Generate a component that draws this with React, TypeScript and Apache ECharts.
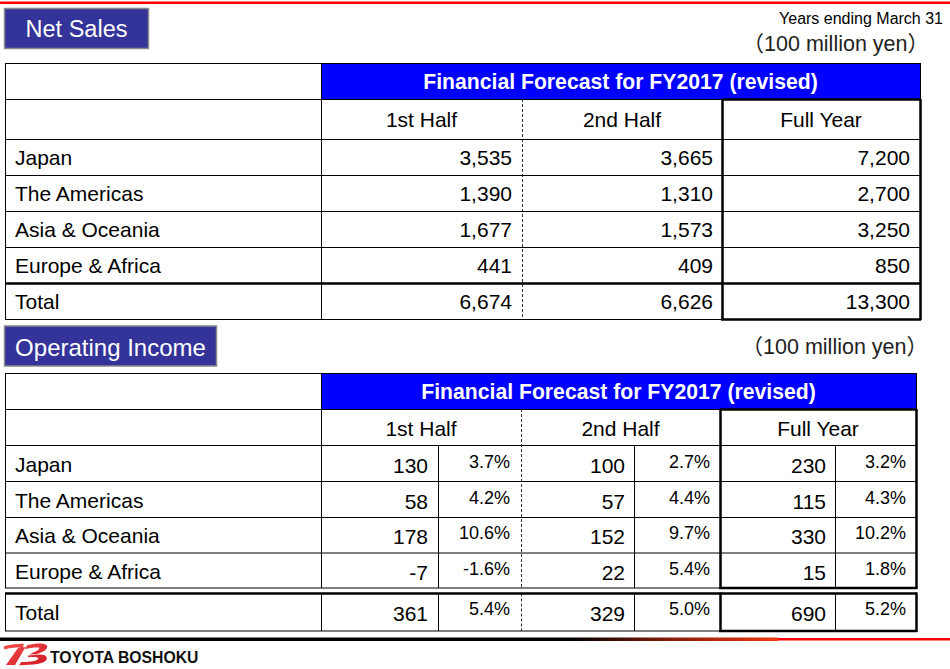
import React, { useEffect, useRef } from "react";
import * as echarts from "echarts";

// ---------- DATA ----------
const regions = ["Japan", "The Americas", "Asia & Oceania", "Europe & Africa"];
const totalLabel = "Total";
const periods = ["1st Half", "2nd Half", "Full Year"];
const forecastTitle = "Financial Forecast for FY2017 (revised)";

const netSales1H = [3535, 1390, 1677, 441];
const netSales2H = [3665, 1310, 1573, 409];
const netSalesFY = [7200, 2700, 3250, 850];
const netSalesTotal = [6674, 6626, 13300];

const opIncome1H = [130, 58, 178, -7];
const opMargin1H = [3.7, 4.2, 10.6, -1.6];
const opIncome2H = [100, 57, 152, 22];
const opMargin2H = [2.7, 4.4, 9.7, 5.4];
const opIncomeFY = [230, 115, 330, 15];
const opMarginFY = [3.2, 4.3, 10.2, 1.8];
const opIncomeTotal = [361, 329, 690];
const opMarginTotal = [5.4, 5.0, 5.2];

// ---------- LOGO ----------
const LOGO_D =
  "M0.5,3.5 C6,1.5 14,0.6 21,0.8 L19.8,4.6 C13,4.4 7,5 1.5,6.4 Z " +
  "M15,5 L22.5,4 L12,22 L3,22 Z " +
  "M21.5,6 L24.5,2 C32,0.2 41.5,-0.6 44,2.6 C45.4,5.8 41,9.2 33.5,11.2 L26.5,11.4 L31,9 C34.8,8 36.8,6.2 36,4.6 C33,4 27.5,4.8 21.5,6 Z " +
  "M25,12.4 L36.5,11.6 C43,11.6 45.2,14.4 43,17.6 C40.4,20.8 31,22.2 16,22.2 L18.2,19 C28,19 34,18 35.2,15.8 C36,14.2 32,13.6 25,14.2 Z";
echarts.graphic.registerShape("tbLogo", echarts.graphic.extendPath(LOGO_D, {}));

const FONT = '"Liberation Sans", Arial, Helvetica, sans-serif';
const CJK_FONT = '"Liberation Sans", "Noto Sans CJK JP", sans-serif';

const fmtNum = (v: number) => v.toLocaleString("en-US");
const fmtPct = (v: number) => v.toFixed(1) + "%";

function txt(
  x: number,
  y: number,
  text: string,
  o: { size?: number; align?: string; weight?: string; color?: string; family?: string } = {}
) {
  return {
    type: "text",
    x,
    y,
    z: 10,
    style: {
      text,
      fill: o.color || "#000",
      fontSize: o.size || 21,
      fontWeight: o.weight || "normal",
      fontFamily: o.family || FONT,
      align: o.align || "left",
      verticalAlign: "middle",
    },
  };
}
function hl(x1: number, x2: number, y: number, w = 1, color = "#000") {
  return { type: "line", z: 5, shape: { x1, y1: y, x2, y2: y }, style: { stroke: color, lineWidth: w } };
}
function vl(x: number, y1: number, y2: number, w = 1, dash = false) {
  return {
    type: "line",
    z: dash ? 4 : 5,
    shape: { x1: x, y1, x2: x, y2 },
    style: { stroke: dash ? "#333" : "#000", lineWidth: w, lineDash: dash ? [3, 2] : null },
  };
}

function buildElements() {
  const els: any[] = [];
  const TH = 2.5;

  // top red line
  els.push({ type: "rect", shape: { x: 0, y: 1.5, width: 950, height: 2.5 }, style: { fill: "#ff0000" } });

  // ---------------- Net Sales label ----------------
  els.push({
    type: "rect",
    shape: { x: 4.5, y: 8.5, width: 144, height: 40 },
    style: { fill: "#333399", stroke: "#8a8a8a", lineWidth: 1.5 },
  });
  els.push(txt(76.5, 29, "Net Sales", { size: 23.5, align: "center", color: "#fff" }));
  els.push(txt(943, 18, "Years ending March 31", { size: 16, align: "right" }));
  els.push(txt(929, 44, "（100 million yen）", { size: 21.5, align: "right", color: "#222", family: CJK_FONT }));

  // ---------------- Table 1 ----------------
  {
    const L = 5, C1 = 321, C2 = 522, C3 = 722, R = 920;
    const yTop = 63, yHead = 99, yRow0 = 139, rh = 36;
    const rowsY = [0, 1, 2, 3, 4, 5].map((i) => yRow0 + i * rh);
    const yBot = rowsY[5];

    els.push({ type: "rect", z: 1, shape: { x: C1, y: yTop, width: R - C1, height: yHead - yTop }, style: { fill: "#0000ff" } });
    els.push(txt((C1 + R) / 2, (yTop + yHead) / 2, forecastTitle, { size: 21.2, weight: "bold", align: "center", color: "#fff" }));

    els.push(hl(L, R, yTop + 0.5));
    els.push(hl(L, C3, yHead + 0.5));
    els.push(hl(C3, R, yHead + 0.5, TH));
    [rowsY[0], rowsY[1], rowsY[2], rowsY[3]].forEach((y) => els.push(hl(L, R, y + 0.5)));
    els.push(hl(L, R, rowsY[4] + 0.5, TH));
    els.push(hl(L, C3, yBot + 0.5));
    els.push(hl(C3 - 1, R + 1, yBot + 0.5, TH));

    els.push(vl(L + 0.5, yTop, yBot));
    els.push(vl(C1 + 0.5, yTop, yBot));
    els.push(vl(C2 + 0.5, yHead, yBot, 1, true));
    els.push(vl(C3 + 0.5, yHead, yBot + 1, TH));
    els.push(vl(R + 0.5, yTop, yHead, 1));
    els.push(vl(R + 0.5, yHead, yBot + 1, TH));

    const colsMid = [(C1 + C2) / 2, (C2 + C3) / 2, (C3 + R) / 2];
    periods.forEach((p, i) => els.push(txt(colsMid[i], (yHead + yRow0) / 2, p, { align: "center" })));

    const rightEdges = [C2 - 10, C3 - 9, R - 10];
    const series = [netSales1H, netSales2H, netSalesFY];
    regions.forEach((r, i) => {
      const cy = rowsY[i] + rh / 2;
      els.push(txt(15, cy, r));
      series.forEach((s, j) => els.push(txt(rightEdges[j], cy, fmtNum(s[i]), { align: "right" })));
    });
    const ty = rowsY[4] + rh / 2;
    els.push(txt(15, ty, totalLabel));
    netSalesTotal.forEach((v, j) => els.push(txt(rightEdges[j], ty, fmtNum(v), { align: "right" })));
  }

  // ---------------- Operating Income label ----------------
  els.push({
    type: "rect",
    shape: { x: 4.5, y: 326, width: 212, height: 40 },
    style: { fill: "#333399", stroke: "#8a8a8a", lineWidth: 1.5 },
  });
  els.push(txt(110.5, 347, "Operating Income", { size: 24, align: "center", color: "#fff" }));
  els.push(txt(928, 347, "（100 million yen）", { size: 21.5, align: "right", color: "#222", family: CJK_FONT }));

  // ---------------- Table 2 ----------------
  {
    const L = 5, C1 = 321, S1 = 438, C2 = 521, S2 = 634, C3 = 720, S3 = 835, R = 916;
    const yTop = 373, yHead = 409, yRow0 = 445;
    const rowsY = [445, 481, 517, 552.5, 588];
    const tTop = 593.5, tBot = 631;

    els.push({ type: "rect", z: 1, shape: { x: C1, y: yTop, width: R - C1, height: yHead - yTop }, style: { fill: "#0000ff" } });
    els.push(txt((C1 + R) / 2, (yTop + yHead) / 2, forecastTitle, { size: 21.2, weight: "bold", align: "center", color: "#fff" }));

    els.push(hl(L, R, yTop + 0.5));
    els.push(hl(L, C3, yHead + 0.5));
    els.push(hl(C3, R, yHead + 0.5, TH));
    [rowsY[0], rowsY[1], rowsY[2], rowsY[3]].forEach((y) => els.push(hl(L, R, y + 0.5)));
    els.push(hl(L, C3, rowsY[4]));
    els.push(hl(C3 - 1, R + 1, rowsY[4], TH));
    els.push(hl(L, R + 1, tTop, TH));
    els.push(hl(L, C3, tBot));
    els.push(hl(C3 - 1, R + 1, tBot, TH));

    const segs = [[yRow0, rowsY[4]], [tTop, tBot]];
    els.push(vl(L + 0.5, yTop, rowsY[4]));
    els.push(vl(L + 0.5, tTop, tBot));
    els.push(vl(C1 + 0.5, yTop, rowsY[4]));
    els.push(vl(C1 + 0.5, tTop, tBot));
    els.push(vl(C2 + 0.5, yHead, rowsY[4], 1, true));
    els.push(vl(C2 + 0.5, tTop, tBot, 1, true));
    [S1, S2, S3].forEach((x) => segs.forEach(([a, b]) => els.push(vl(x + 0.5, a, b))));
    els.push(vl(C3 + 0.5, yHead, rowsY[4] + 1, TH));
    els.push(vl(C3 + 0.5, tTop - 1, tBot + 1, TH));
    els.push(vl(R + 0.5, yTop, yHead));
    els.push(vl(R + 0.5, yHead, rowsY[4] + 1, TH));
    els.push(vl(R + 0.5, tTop - 1, tBot + 1, TH));

    const colsMid = [(C1 + C2) / 2, (C2 + C3) / 2, (C3 + R) / 2];
    periods.forEach((p, i) => els.push(txt(colsMid[i], (yHead + yRow0) / 2 + 1, p, { align: "center" })));

    const numRight = [S1 - 10, S2 - 9, S3 - 9];
    const pctRight = [C2 - 11, C3 - 10, R - 10];
    const inc = [opIncome1H, opIncome2H, opIncomeFY];
    const mar = [opMargin1H, opMargin2H, opMarginFY];
    regions.forEach((r, i) => {
      const cy = (rowsY[i] + rowsY[i + 1]) / 2;
      els.push(txt(15, cy + 1, r));
      inc.forEach((s, j) => els.push(txt(numRight[j], cy + 2, fmtNum(s[i]), { align: "right" })));
      mar.forEach((s, j) => els.push(txt(pctRight[j], cy - 1.5, fmtPct(s[i]), { align: "right", size: 18 })));
    });
    const ty = (tTop + tBot) / 2;
    els.push(txt(15, ty, totalLabel));
    opIncomeTotal.forEach((v, j) => els.push(txt(numRight[j], ty + 1, fmtNum(v), { align: "right" })));
    opMarginTotal.forEach((v, j) => els.push(txt(pctRight[j], ty - 3, fmtPct(v), { align: "right", size: 18 })));
  }

  // ---------------- footer line ----------------
  els.push({ type: "rect", shape: { x: 0, y: 637.5, width: 572, height: 3.5 }, style: { fill: "#000" } });
  els.push({
    type: "rect",
    shape: { x: 572, y: 637.5, width: 206, height: 3.5 },
    style: {
      fill: new echarts.graphic.LinearGradient(0, 0, 1, 0, [
        { offset: 0, color: "#000000" },
        { offset: 0.45, color: "#801a08" },
        { offset: 1, color: "#f03a10" },
      ]),
    },
  });
  els.push({ type: "rect", shape: { x: 778, y: 638, width: 172, height: 2.5 }, style: { fill: "#ff0000" } });

  // logo
  els.push({
    type: "tbLogo",
    x: 3,
    y: 643,
    scaleX: 1,
    scaleY: 1,
    style: {
      fill: new echarts.graphic.LinearGradient(0, 0, 1, 1, [
        { offset: 0, color: "#f45050" },
        { offset: 1, color: "#d01820" },
      ]),
    },
  });
  els.push(txt(50, 657, "TOYOTA BOSHOKU", { size: 15.75, weight: "bold", color: "#111" }));

  return els;
}

export default function App() {
  const ref = useRef<HTMLDivElement>(null);
  useEffect(() => {
    if (!ref.current) return;
    const chart = echarts.init(ref.current, null, { renderer: "svg" });
    chart.setOption({
      animation: false,
      backgroundColor: "#ffffff",
      graphic: { elements: buildElements() },
    });
    return () => chart.dispose();
  }, []);
  return (
    <div
      ref={ref}
      style={{ position: "absolute", left: 0, top: 0, width: 950, height: 669, background: "#fff" }}
    />
  );
}
